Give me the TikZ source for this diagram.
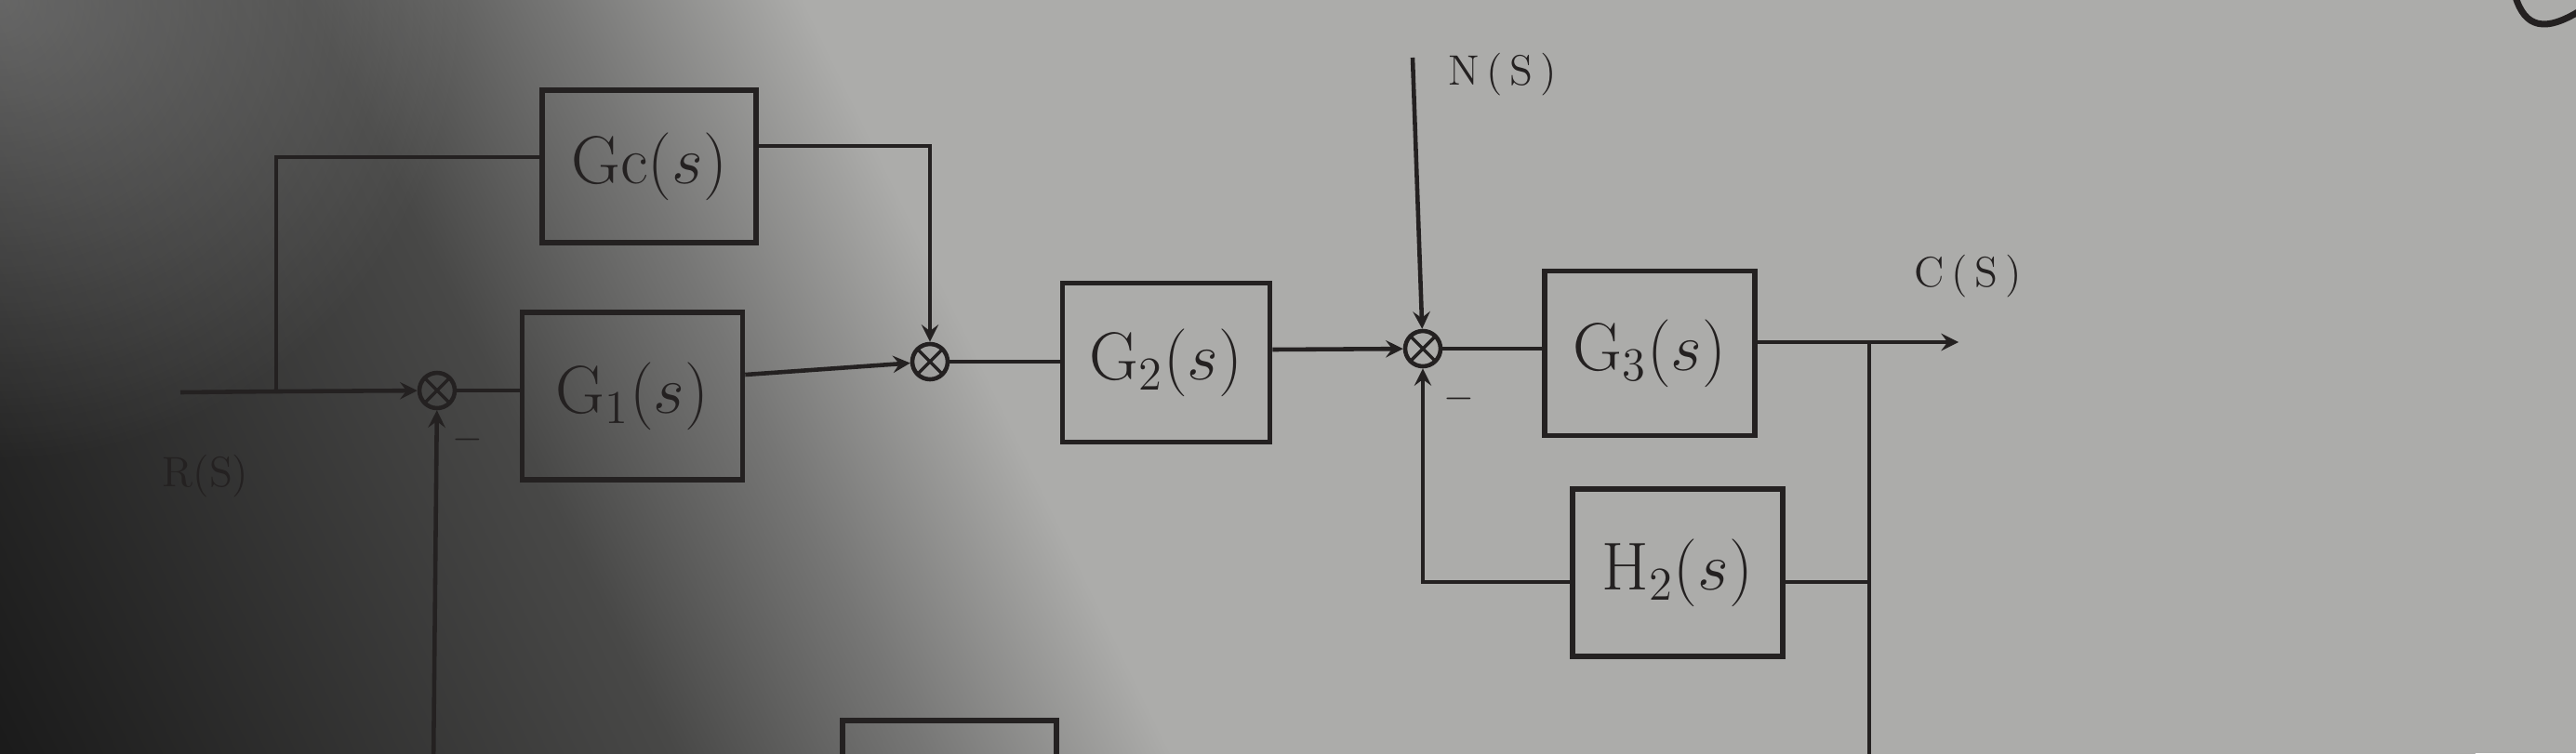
\documentclass[tikz,border=0pt]{standalone}
\usetikzlibrary{fadings}
\definecolor{paper}{RGB}{172,172,170}
\definecolor{ink}{RGB}{36,33,33}
\definecolor{shadeA}{RGB}{26,26,26}
\definecolor{shadeB}{RGB}{72,72,71}
\definecolor{shadeC}{RGB}{118,118,117}
\pgfdeclarehorizontalshading{photo}{100bp}{color(0bp)=(shadeA); color(35bp)=(shadeA);
 color(46bp)=(shadeB); color(50bp)=(shadeC); color(54bp)=(paper); color(100bp)=(paper)}
\tikzfading[name=softspot, inner color=transparent!0, outer color=transparent!100]
\begin{document}
\begin{tikzpicture}[>=stealth,
 block/.style={draw=ink,line width=1.6pt,minimum width=2.3cm,minimum height=1.75cm,
  text=ink,font=\fontsize{20}{24}\selectfont},
 sumj/.style={draw=ink,line width=1.3pt,circle,minimum size=0.38cm,inner sep=0pt,
  path picture={\draw[ink,line width=1pt]
  (path picture bounding box.north west)--(path picture bounding box.south east)
  (path picture bounding box.north east)--(path picture bounding box.south west);}},
 sig/.style={draw=ink,line width=1.3pt},
 lbl/.style={text=ink,font=\fontsize{13}{15}\selectfont}]
 \useasboundingbox (0,0) rectangle (27.7,8.1);
 \clip (0,0) rectangle (27.7,8.1);
 \fill[paper] (0,0) rectangle (27.7,8.1);
 \shade[shading=photo,transform canvas={rotate around={26:(7.95,4.05)}}]
  (-7.05,-10.95) rectangle (22.95,19.05);
 \fill[white,fill opacity=0.25,path fading=softspot] (-5,3.1) rectangle (5,13.1);
 \node[sumj] (j1) at (4.70,3.90) {};
 \node[block,minimum width=2.37cm,minimum height=1.80cm] (G1) at (6.80,3.84) {$\mathrm{G_1}(s)$};
 \node[block,minimum height=1.64cm] (Gc) at (6.98,6.31) {$\mathrm{Gc}(s)$};
 \node[sumj] (j2) at (10.00,4.21) {};
 \node[block,minimum width=2.23cm,minimum height=1.71cm] (G2) at (12.54,4.20) {$\mathrm{G_2}(s)$};
 \node[sumj] (j3) at (15.30,4.35) {};
 \node[block,minimum width=2.26cm,minimum height=1.77cm] (G3) at (17.74,4.30) {$\mathrm{G_3}(s)$};
 \node[block,minimum width=2.26cm,minimum height=1.80cm] (H2) at (18.04,1.94) {$\mathrm{H_2}(s)$};
 \node[block,minimum height=1.80cm] (H1) at (10.21,-0.55) {};
 \coordinate (rin) at (1.94,3.88);
 \coordinate (br1) at (2.97,3.89);
 \coordinate (fb1) at (4.66,-0.2);
 \coordinate (nin) at (15.19,7.48);
 \coordinate (br2) at (20.10,4.42);
 \coordinate (cout) at (21.06,4.42);
 \coordinate (fbo) at (20.10,-0.2);
 \draw[sig] (rin) -- (br1);
 \draw[sig,->] (br1) -- (j1);
 \draw[sig] (br1) |- ([yshift=0.1cm]Gc.west);
 \draw[sig,->] ([yshift=0.22cm]Gc.east) -| (j2);
 \draw[sig,->] (fb1) -- (j1);
 \draw[sig] (j1) -- (j1 -| G1.west);
 \draw[sig,->] ([yshift=0.23cm]G1.east) -- (j2);
 \draw[sig] (j2) -- (j2 -| G2.west);
 \draw[sig,->] ([yshift=0.14cm]G2.east) -- (j3);
 \draw[sig,->] (nin) -- (j3);
 \draw[sig] (j3) -- (j3 -| G3.west);
 \draw[sig] (G3.east |- br2) -- (br2);
 \draw[sig,->] (br2) -- (cout);
 \draw[sig] (br2) -- (fbo);
 \draw[sig] ([yshift=-0.1cm]H2.east -| br2) -- ([yshift=-0.1cm]H2.east);
 \draw[sig,->] ([yshift=-0.1cm]H2.west) -| (j3);
 \node[lbl] (rlab) at (2.21,2.98) {R(S)};
 \node[lbl,anchor=west] (nlab) at (15.45,7.30) {N\,(\,S\,)};
 \node[lbl] (clab) at (21.16,5.13) {C\,(\,S\,)};
 \node[lbl] (m1) at (5.03,3.37) {$-$};
 \node[lbl] (m3) at (15.69,3.81) {$-$};
 \draw[ink,line width=2pt] (27.03,8.2) .. controls (27.12,7.85) and (27.3,7.72) .. (27.72,7.97);
\end{tikzpicture}
\end{document}
